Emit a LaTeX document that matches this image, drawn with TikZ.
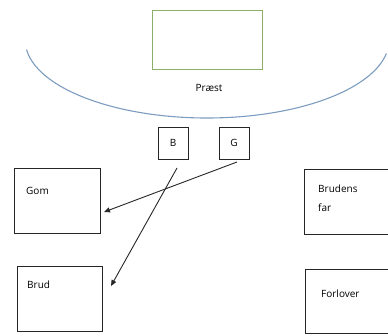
\documentclass[tikz,border=0pt]{standalone}
\usepackage{fontspec}
\setmainfont{Open Sans}
\usetikzlibrary{arrows.meta}
\definecolor{podium}{HTML}{8CAE68}
\definecolor{arcblue}{HTML}{7C9CC0}
\begin{document}
\begin{tikzpicture}[x=1pt,y=-1pt,
  seat/.style={draw=black!85,line width=0.9pt},
  lbl/.style={font=\fontsize{10}{13}\selectfont,inner sep=0pt,anchor=base west},
  mover/.style={draw=black!85,line width=0.9pt,-{Triangle[length=6pt,width=5pt]}}]
\useasboundingbox (0,0) rectangle (388,335);
% altar
\draw[podium,line width=0.9pt] (152,10) rectangle (262,69);
% arc
\draw[arcblue,line width=1.1pt] (26.5,49.5) arc[start angle=187,end angle=350,x radius=182,y radius=-78];
\node[font=\fontsize{10}{13}\selectfont,inner sep=0pt] (praest) at (209,88) {Præst};
% B and G
\node[seat,minimum width=30pt,minimum height=32pt,inner sep=0pt,font=\fontsize{10}{13}\selectfont] (B) at (173,143) {B};
\node[seat,minimum width=30pt,minimum height=32pt,inner sep=0pt,font=\fontsize{10}{13}\selectfont] (G) at (234,143) {G};
% boxes
\draw[seat] (14,168) rectangle (100,233);
\node[lbl] (gom) at (26,194) {Gom};
\draw[seat] (17,266) rectangle (102,331);
\node[lbl] (brud) at (27,288) {Brud};
\draw[seat] (395,234) -- (304,234) -- (304,169) -- (395,169);
\node[lbl] (bf1) at (318,192) {Brudens};
\node[lbl] (bf2) at (318,211) {far};
\draw[seat] (395,333) -- (305,333) -- (305,269) -- (395,269);
\node[lbl] (forl) at (321,297) {Forlover};
% arrows
\coordinate (gs) at (237,162);
\coordinate (ge) at (104,212);
\coordinate (bs) at (177,168);
\coordinate (be) at (111,286);
\draw[mover] (gs) -- (ge);
\draw[mover] (bs) -- (be);
\end{tikzpicture}
\end{document}
